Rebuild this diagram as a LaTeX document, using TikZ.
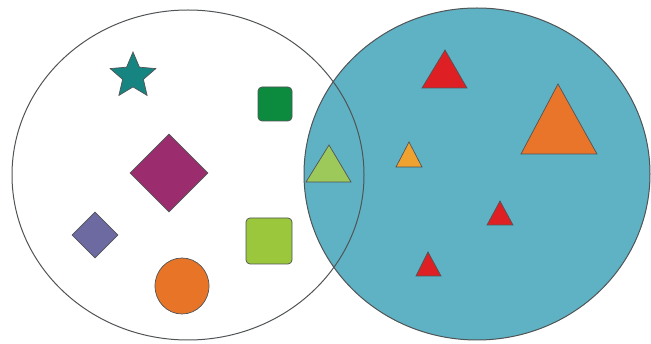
\documentclass[tikz,border=0pt]{standalone}
\usepackage{tikz}
\usetikzlibrary{shapes.geometric}

\definecolor{setcyan}{RGB}{94,178,196}
\definecolor{startl}{RGB}{22,132,128}
\definecolor{sqdark}{RGB}{12,138,62}
\definecolor{sqlight}{RGB}{155,199,60}
\definecolor{dmplum}{RGB}{155,45,110}
\definecolor{dmslate}{RGB}{108,106,160}
\definecolor{dotorng}{RGB}{232,116,40}
\definecolor{trired}{RGB}{222,32,36}
\definecolor{triorng}{RGB}{232,117,42}
\definecolor{triamber}{RGB}{240,162,48}
\definecolor{trilime}{RGB}{156,201,90}
\definecolor{rimgray}{RGB}{80,84,86}

\begin{document}
\begin{tikzpicture}[
        x=1pt, y=-1pt,
        rim/.style={
            draw=rimgray,
            line width=1pt
        },
        piece/.style={
            draw=rimgray,
            line width=0.7pt,
            inner sep=0pt
        },
        tile/.style={
            piece,
            rectangle,
            rounded corners=4pt
        },
        gem/.style={
            piece,
            diamond
        },
        tri/.style={
            piece,
            line join=miter
        }
    ]
    \useasboundingbox (0,0) rectangle (651,344);

    % the two sets
    \fill[white] (188,175) ellipse [x radius=176, y radius=165];
    \draw[rim, fill=setcyan] (477,174) ellipse [x radius=173, y radius=166];
    \draw[rim] (188,175) ellipse [x radius=176, y radius=165];

    % left set
    \node[piece, star, star points=5, star point ratio=2.2, minimum size=48pt, fill=startl] (star) at (133,76) {};
    \node[tile, minimum size=34pt, fill=sqdark] (darksq) at (275,104) {};
    \node[gem, minimum size=78pt, fill=dmplum] (bigdm) at (169,173) {};
    \node[gem, minimum size=46pt, fill=dmslate] (smalldm) at (95,235) {};
    \node[tile, minimum size=46pt, fill=sqlight] (lightsq) at (269,241) {};
    \node[piece, ellipse, minimum width=54pt, minimum height=56pt, fill=dotorng] (dot) at (182,286) {};

    % overlap
    \draw[tri, fill=trilime] (306,182) -- (329,145) -- (351,182) -- cycle;

    % right set
    \draw[tri, fill=trired] (422,88) -- (445,50) -- (467,88) -- cycle;
    \draw[tri, fill=triorng] (521,154) -- (558,84) -- (597,154) -- cycle;
    \draw[tri, fill=triamber] (396,167) -- (409,142) -- (422,167) -- cycle;
    \draw[tri, fill=trired] (487,225) -- (500,201) -- (513,225) -- cycle;
    \draw[tri, fill=trired] (416,276) -- (428,252) -- (441,276) -- cycle;
\end{tikzpicture}
\end{document}
